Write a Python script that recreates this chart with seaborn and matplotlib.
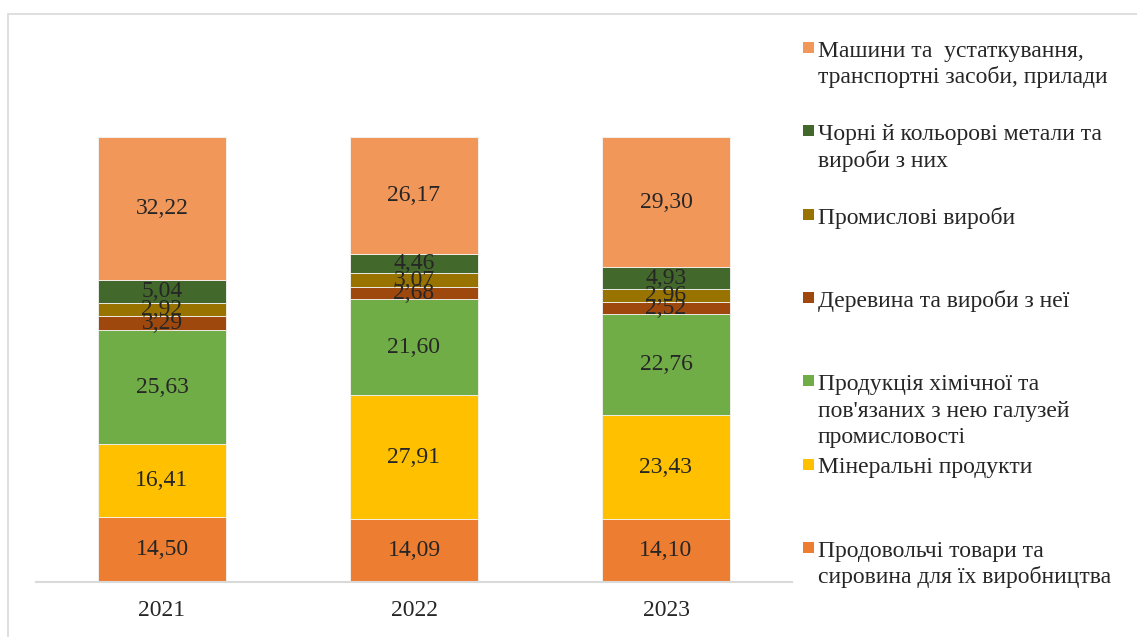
import matplotlib.pyplot as plt
import matplotlib.patches as mpatches
import numpy as np
import pandas as pd
import seaborn as sns

years = ["2021", "2022", "2023"]

series_names = [
    "Продовольчі товари та\nсировина для їх виробництва",
    "Мінеральні продукти",
    "Продукція хімічної та\nпов'язаних з нею галузей\nпромисловості",
    "Деревина та вироби з неї",
    "Промислові вироби",
    "Чорні й кольорові метали та\nвироби з них",
    "Машини та  устаткування,\nтранспортні засоби, прилади",
]

food = [14.50, 14.09, 14.10]
mineral = [16.41, 27.91, 23.43]
chemical = [25.63, 21.60, 22.76]
wood = [3.29, 2.68, 2.52]
industrial = [2.92, 3.07, 2.96]
metals = [5.04, 4.46, 4.93]
machines = [32.22, 26.17, 29.30]

colors = ["#ED7D31", "#FFC000", "#70AD47", "#9E480E", "#997300", "#43682B", "#F1975A"]

sns.set_style("white")
plt.rcParams["font.family"] = ["Liberation Serif", "DejaVu Serif"]

W, H = 1137, 637
fig = plt.figure(figsize=(W / 100, H / 100), dpi=100)
ax = fig.add_axes([36 / W, (H - 582) / H, 756 / W, 534 / H])

values = [food, mineral, chemical, wood, industrial, metals, machines]
bottom = np.zeros(len(years))
for vals, color in zip(values, colors):
    df = pd.DataFrame({"year": years, "share": vals})
    sns.barplot(data=df, x="year", y="share", order=years, color=color,
                width=0.51, bottom=bottom.copy(), edgecolor="#f4f4f4",
                linewidth=0.6, saturation=1, ax=ax)
    bottom += np.array(vals)

for container, vals in zip(ax.containers, values):
    ax.bar_label(container, labels=[f"{v:.2f}".replace(".", ",") for v in vals],
                 label_type="center", fontsize=17, color="#262626")

ax.set_ylim(0, 120)
ax.set_xlim(-0.5, 2.5)
ax.set_yticks([])
ax.set_xlabel("")
ax.set_ylabel("")
for side in ["top", "right", "left"]:
    ax.spines[side].set_visible(False)
ax.spines["bottom"].set_color("#D9D9D9")
ax.spines["bottom"].set_linewidth(1.5)
ax.tick_params(axis="x", length=0, labelsize=17, pad=13, labelcolor="#262626")

# outer chart frame
fig.patches.append(mpatches.Rectangle((8 / W, -0.1), 1.2, (H - 14) / H + 0.1,
                                      transform=fig.transFigure, fill=False,
                                      edgecolor="#D9D9D9", linewidth=1.2))

# legend laid out at even slots, top to bottom
step = 83.3
for k, (name, color) in enumerate(zip(series_names[::-1], colors[::-1])):
    base = 57 + step * k
    fig.patches.append(mpatches.Rectangle((803 / W, (H - base + 4) / H), 11 / W, 11 / H,
                                          transform=fig.transFigure,
                                          facecolor=color, edgecolor="none"))
    for j, line in enumerate(name.split("\n")):
        fig.text(818 / W, (H - base - 26.5 * j) / H, line, fontsize=17,
                 color="#262626", va="baseline", ha="left")

fig.savefig("out.png", dpi=100)
